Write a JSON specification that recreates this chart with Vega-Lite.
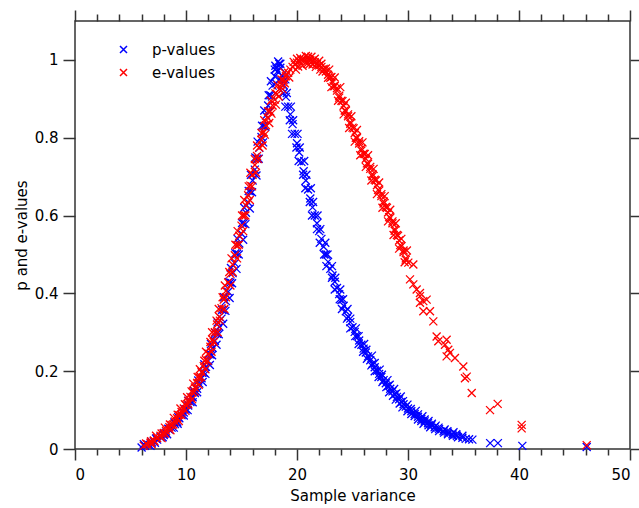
{
"$schema": "https://vega.github.io/schema/vega-lite/v6.json",
"width": 555, "height": 428,
"autosize": {"type": "none"},
"padding": {"left": 75, "top": 21, "right": 9, "bottom": 59},
"background": "white",
"config": {
  "view": {"stroke": "#333", "strokeWidth": 1.5},
  "font": "DejaVu Sans",
  "axis": {"domain": false, "grid": false, "tickColor": "#333", "tickWidth": 1.5, "labelFont": "DejaVu Sans", "labelFontSize": 15, "labelColor": "black", "titleFont": "DejaVu Sans", "titleFontSize": 15, "titleFontWeight": "normal", "titleColor": "black"}
},
"data": {"values": [
{"series":"p-values","x":6.0,"y":0.004},{"series":"p-values","x":6.3,"y":0.008},{"series":"p-values","x":6.6,"y":0.011},{"series":"p-values","x":6.9,"y":0.015},{"series":"p-values","x":7.1,"y":0.02},{"series":"p-values","x":7.4,"y":0.024},{"series":"p-values","x":7.7,"y":0.03},{"series":"p-values","x":8.0,"y":0.036},{"series":"p-values","x":8.2,"y":0.042},{"series":"p-values","x":8.5,"y":0.05},{"series":"p-values","x":8.7,"y":0.055},{"series":"p-values","x":9.0,"y":0.064},{"series":"p-values","x":9.2,"y":0.07},{"series":"p-values","x":9.4,"y":0.079},{"series":"p-values","x":9.6,"y":0.087},{"series":"p-values","x":9.8,"y":0.094},{"series":"p-values","x":10.0,"y":0.102},{"series":"p-values","x":10.2,"y":0.112},{"series":"p-values","x":10.4,"y":0.121},{"series":"p-values","x":10.6,"y":0.133},{"series":"p-values","x":10.8,"y":0.144},{"series":"p-values","x":11.0,"y":0.155},{"series":"p-values","x":11.2,"y":0.168},{"series":"p-values","x":11.4,"y":0.182},{"series":"p-values","x":11.6,"y":0.196},{"series":"p-values","x":11.8,"y":0.211},{"series":"p-values","x":12.0,"y":0.226},{"series":"p-values","x":12.2,"y":0.243},{"series":"p-values","x":12.4,"y":0.26},{"series":"p-values","x":12.6,"y":0.278},{"series":"p-values","x":12.8,"y":0.296},{"series":"p-values","x":13.0,"y":0.314},{"series":"p-values","x":13.2,"y":0.335},{"series":"p-values","x":13.4,"y":0.357},{"series":"p-values","x":13.6,"y":0.38},{"series":"p-values","x":13.8,"y":0.404},{"series":"p-values","x":14.0,"y":0.428},{"series":"p-values","x":14.2,"y":0.452},{"series":"p-values","x":14.4,"y":0.477},{"series":"p-values","x":14.6,"y":0.502},{"series":"p-values","x":14.8,"y":0.528},{"series":"p-values","x":15.0,"y":0.553},{"series":"p-values","x":15.2,"y":0.58},{"series":"p-values","x":15.4,"y":0.607},{"series":"p-values","x":15.6,"y":0.634},{"series":"p-values","x":15.8,"y":0.662},{"series":"p-values","x":16.0,"y":0.69},{"series":"p-values","x":16.2,"y":0.718},{"series":"p-values","x":16.4,"y":0.746},{"series":"p-values","x":16.6,"y":0.774},{"series":"p-values","x":16.8,"y":0.802},{"series":"p-values","x":17.0,"y":0.83},{"series":"p-values","x":17.2,"y":0.857},{"series":"p-values","x":17.4,"y":0.883},{"series":"p-values","x":17.6,"y":0.909},{"series":"p-values","x":17.8,"y":0.934},{"series":"p-values","x":18.0,"y":0.958},{"series":"p-values","x":18.15,"y":0.978},{"series":"p-values","x":18.3,"y":0.996},{"series":"p-values","x":18.4,"y":0.99},
{"series":"p-values","x":18.5,"y":0.98},{"series":"p-values","x":18.65,"y":0.96},{"series":"p-values","x":18.8,"y":0.935},{"series":"p-values","x":19.0,"y":0.905},{"series":"p-values","x":19.2,"y":0.88},{"series":"p-values","x":19.4,"y":0.86},{"series":"p-values","x":19.6,"y":0.835},{"series":"p-values","x":19.8,"y":0.81},{"series":"p-values","x":20.0,"y":0.786},{"series":"p-values","x":20.2,"y":0.762},{"series":"p-values","x":20.4,"y":0.738},{"series":"p-values","x":20.6,"y":0.714},{"series":"p-values","x":20.8,"y":0.69},{"series":"p-values","x":21.0,"y":0.667},{"series":"p-values","x":21.2,"y":0.644},{"series":"p-values","x":21.4,"y":0.621},{"series":"p-values","x":21.6,"y":0.6},{"series":"p-values","x":21.8,"y":0.58},{"series":"p-values","x":22.0,"y":0.56},{"series":"p-values","x":22.2,"y":0.54},{"series":"p-values","x":22.4,"y":0.52},{"series":"p-values","x":22.6,"y":0.5},{"series":"p-values","x":22.8,"y":0.481},{"series":"p-values","x":23.0,"y":0.463},{"series":"p-values","x":23.2,"y":0.446},{"series":"p-values","x":23.4,"y":0.43},{"series":"p-values","x":23.6,"y":0.414},{"series":"p-values","x":23.8,"y":0.398},{"series":"p-values","x":24.0,"y":0.383},{"series":"p-values","x":24.2,"y":0.368},{"series":"p-values","x":24.4,"y":0.354},{"series":"p-values","x":24.6,"y":0.34},{"series":"p-values","x":24.8,"y":0.326},{"series":"p-values","x":25.0,"y":0.313},{"series":"p-values","x":25.2,"y":0.301},{"series":"p-values","x":25.4,"y":0.29},{"series":"p-values","x":25.6,"y":0.279},{"series":"p-values","x":25.8,"y":0.268},{"series":"p-values","x":26.0,"y":0.258},{"series":"p-values","x":26.2,"y":0.248},{"series":"p-values","x":26.4,"y":0.238},{"series":"p-values","x":26.6,"y":0.228},{"series":"p-values","x":26.8,"y":0.219},{"series":"p-values","x":27.0,"y":0.21},{"series":"p-values","x":27.2,"y":0.201},{"series":"p-values","x":27.4,"y":0.193},{"series":"p-values","x":27.6,"y":0.185},{"series":"p-values","x":27.8,"y":0.177},{"series":"p-values","x":28.0,"y":0.169},{"series":"p-values","x":28.2,"y":0.162},{"series":"p-values","x":28.4,"y":0.155},{"series":"p-values","x":28.6,"y":0.148},{"series":"p-values","x":28.8,"y":0.141},{"series":"p-values","x":29.0,"y":0.134},{"series":"p-values","x":29.2,"y":0.128},{"series":"p-values","x":29.4,"y":0.121},{"series":"p-values","x":29.6,"y":0.115},{"series":"p-values","x":29.8,"y":0.109},{"series":"p-values","x":30.0,"y":0.104},{"series":"p-values","x":30.3,"y":0.097},{"series":"p-values","x":30.6,"y":0.09},{"series":"p-values","x":30.9,"y":0.083},{"series":"p-values","x":31.2,"y":0.077},{"series":"p-values","x":31.5,"y":0.071},{"series":"p-values","x":31.8,"y":0.066},{"series":"p-values","x":32.1,"y":0.061},{"series":"p-values","x":32.4,"y":0.056},{"series":"p-values","x":32.8,"y":0.051},{"series":"p-values","x":33.2,"y":0.046},{"series":"p-values","x":33.6,"y":0.042},{"series":"p-values","x":34.0,"y":0.038},{"series":"p-values","x":34.4,"y":0.034},{"series":"p-values","x":34.9,"y":0.029},{"series":"p-values","x":35.2,"y":0.026},{"series":"p-values","x":35.5,"y":0.025},{"series":"p-values","x":35.8,"y":0.024},{"series":"p-values","x":37.4,"y":0.015},{"series":"p-values","x":38.1,"y":0.015},{"series":"p-values","x":40.3,"y":0.008},{"series":"p-values","x":46.1,"y":0.005},
{"series":"p-values","x":6.2,"y":0.012},{"series":"p-values","x":6.8,"y":0.008},{"series":"p-values","x":7.3,"y":0.027},{"series":"p-values","x":7.9,"y":0.03},{"series":"p-values","x":8.4,"y":0.052},{"series":"p-values","x":8.9,"y":0.055},{"series":"p-values","x":9.3,"y":0.082},{"series":"p-values","x":9.8,"y":0.086},{"series":"p-values","x":10.2,"y":0.124},{"series":"p-values","x":10.6,"y":0.12},{"series":"p-values","x":11.1,"y":0.176},{"series":"p-values","x":11.5,"y":0.172},{"series":"p-values","x":11.65,"y":0.218},{"series":"p-values","x":12.15,"y":0.216},{"series":"p-values","x":12.25,"y":0.27},{"series":"p-values","x":12.75,"y":0.268},{"series":"p-values","x":12.85,"y":0.325},{"series":"p-values","x":13.35,"y":0.322},{"series":"p-values","x":13.43,"y":0.39},{"series":"p-values","x":13.93,"y":0.388},{"series":"p-values","x":14.05,"y":0.465},{"series":"p-values","x":14.55,"y":0.463},{"series":"p-values","x":14.65,"y":0.54},{"series":"p-values","x":15.15,"y":0.538},{"series":"p-values","x":15.25,"y":0.62},{"series":"p-values","x":15.75,"y":0.618},{"series":"p-values","x":15.85,"y":0.705},{"series":"p-values","x":16.35,"y":0.703},{"series":"p-values","x":16.45,"y":0.79},{"series":"p-values","x":16.95,"y":0.788},{"series":"p-values","x":17.05,"y":0.87},{"series":"p-values","x":17.55,"y":0.868},{"series":"p-values","x":17.65,"y":0.945},{"series":"p-values","x":18.1,"y":0.94},{"series":"p-values","x":18.05,"y":0.985},{"series":"p-values","x":18.5,"y":0.99},
{"series":"p-values","x":18.45,"y":0.95},{"series":"p-values","x":18.95,"y":0.95},{"series":"p-values","x":18.95,"y":0.88},{"series":"p-values","x":19.45,"y":0.88},{"series":"p-values","x":19.55,"y":0.81},{"series":"p-values","x":20.05,"y":0.81},{"series":"p-values","x":20.15,"y":0.74},{"series":"p-values","x":20.65,"y":0.74},{"series":"p-values","x":20.75,"y":0.67},{"series":"p-values","x":21.25,"y":0.67},{"series":"p-values","x":21.35,"y":0.6},{"series":"p-values","x":21.85,"y":0.6},{"series":"p-values","x":22.05,"y":0.53},{"series":"p-values","x":22.55,"y":0.53},{"series":"p-values","x":22.65,"y":0.47},{"series":"p-values","x":23.15,"y":0.47},{"series":"p-values","x":23.4,"y":0.41},{"series":"p-values","x":23.9,"y":0.41},{"series":"p-values","x":24.05,"y":0.36},{"series":"p-values","x":24.55,"y":0.36},{"series":"p-values","x":24.8,"y":0.31},{"series":"p-values","x":25.3,"y":0.31},{"series":"p-values","x":25.55,"y":0.27},{"series":"p-values","x":26.05,"y":0.27},{"series":"p-values","x":26.3,"y":0.232},{"series":"p-values","x":26.75,"y":0.24},{"series":"p-values","x":27.0,"y":0.2},{"series":"p-values","x":27.45,"y":0.204},{"series":"p-values","x":27.7,"y":0.172},{"series":"p-values","x":28.15,"y":0.177},{"series":"p-values","x":28.3,"y":0.146},{"series":"p-values","x":28.75,"y":0.154},{"series":"p-values","x":28.9,"y":0.127},{"series":"p-values","x":29.35,"y":0.135},{"series":"p-values","x":29.5,"y":0.107},{"series":"p-values","x":29.95,"y":0.114},{"series":"p-values","x":30.3,"y":0.09},{"series":"p-values","x":30.7,"y":0.098},{"series":"p-values","x":30.9,"y":0.076},{"series":"p-values","x":31.3,"y":0.084},{"series":"p-values","x":31.4,"y":0.065},{"series":"p-values","x":31.85,"y":0.072},{"series":"p-values","x":32.0,"y":0.056},{"series":"p-values","x":32.5,"y":0.06},{"series":"p-values","x":32.8,"y":0.046},{"series":"p-values","x":33.3,"y":0.05},{"series":"p-values","x":33.6,"y":0.038},{"series":"p-values","x":34.1,"y":0.043},{"series":"p-values","x":34.5,"y":0.03},{"series":"p-values","x":34.9,"y":0.034},
{"series":"p-values","x":6.9,"y":0.018},{"series":"p-values","x":7.2,"y":0.016},{"series":"p-values","x":8.0,"y":0.04},{"series":"p-values","x":8.3,"y":0.038},{"series":"p-values","x":8.95,"y":0.068},{"series":"p-values","x":9.25,"y":0.065},{"series":"p-values","x":9.85,"y":0.103},{"series":"p-values","x":10.15,"y":0.1},{"series":"p-values","x":10.7,"y":0.149},{"series":"p-values","x":11.0,"y":0.146},{"series":"p-values","x":11.45,"y":0.196},{"series":"p-values","x":11.75,"y":0.193},{"series":"p-values","x":12.05,"y":0.244},{"series":"p-values","x":12.35,"y":0.241},{"series":"p-values","x":12.65,"y":0.298},{"series":"p-values","x":12.95,"y":0.295},{"series":"p-values","x":13.25,"y":0.358},{"series":"p-values","x":13.55,"y":0.355},{"series":"p-values","x":13.85,"y":0.429},{"series":"p-values","x":14.15,"y":0.426},{"series":"p-values","x":14.45,"y":0.503},{"series":"p-values","x":14.75,"y":0.5},{"series":"p-values","x":15.05,"y":0.581},{"series":"p-values","x":15.35,"y":0.578},{"series":"p-values","x":15.65,"y":0.663},{"series":"p-values","x":15.95,"y":0.66},{"series":"p-values","x":16.25,"y":0.749},{"series":"p-values","x":16.55,"y":0.746},{"series":"p-values","x":16.85,"y":0.831},{"series":"p-values","x":17.15,"y":0.828},{"series":"p-values","x":17.45,"y":0.909},{"series":"p-values","x":17.75,"y":0.906},{"series":"p-values","x":18.0,"y":0.975},{"series":"p-values","x":18.25,"y":0.97},
{"series":"p-values","x":18.78,"y":0.915},{"series":"p-values","x":19.08,"y":0.915},{"series":"p-values","x":19.35,"y":0.845},{"series":"p-values","x":19.65,"y":0.845},{"series":"p-values","x":19.95,"y":0.775},{"series":"p-values","x":20.25,"y":0.775},{"series":"p-values","x":20.55,"y":0.705},{"series":"p-values","x":20.85,"y":0.705},{"series":"p-values","x":21.15,"y":0.635},{"series":"p-values","x":21.45,"y":0.635},{"series":"p-values","x":21.8,"y":0.565},{"series":"p-values","x":22.1,"y":0.565},{"series":"p-values","x":22.45,"y":0.5},{"series":"p-values","x":22.75,"y":0.5},{"series":"p-values","x":23.15,"y":0.44},{"series":"p-values","x":23.45,"y":0.44},{"series":"p-values","x":23.85,"y":0.385},{"series":"p-values","x":24.15,"y":0.385},{"series":"p-values","x":24.5,"y":0.335},{"series":"p-values","x":24.8,"y":0.335},{"series":"p-values","x":25.25,"y":0.29},{"series":"p-values","x":25.55,"y":0.29},{"series":"p-values","x":25.95,"y":0.25},{"series":"p-values","x":26.25,"y":0.255},{"series":"p-values","x":26.7,"y":0.215},{"series":"p-values","x":27.0,"y":0.221},{"series":"p-values","x":27.35,"y":0.185},{"series":"p-values","x":27.65,"y":0.191},{"series":"p-values","x":28.05,"y":0.159},{"series":"p-values","x":28.35,"y":0.165},{"series":"p-values","x":28.65,"y":0.137},{"series":"p-values","x":28.95,"y":0.143},{"series":"p-values","x":29.25,"y":0.117},{"series":"p-values","x":29.55,"y":0.123},{"series":"p-values","x":29.95,"y":0.097},{"series":"p-values","x":30.25,"y":0.103},{"series":"p-values","x":30.6,"y":0.085},{"series":"p-values","x":30.9,"y":0.089},{"series":"p-values","x":31.2,"y":0.072},{"series":"p-values","x":31.5,"y":0.076},{"series":"p-values","x":31.85,"y":0.061},{"series":"p-values","x":32.15,"y":0.065},{"series":"p-values","x":32.45,"y":0.051},{"series":"p-values","x":32.75,"y":0.055},{"series":"p-values","x":33.25,"y":0.042},{"series":"p-values","x":33.55,"y":0.046},{"series":"p-values","x":34.05,"y":0.034},{"series":"p-values","x":34.35,"y":0.038},
{"series":"e-values","x":6.2,"y":0.008},{"series":"e-values","x":6.5,"y":0.012},{"series":"e-values","x":6.8,"y":0.016},{"series":"e-values","x":7.1,"y":0.022},{"series":"e-values","x":7.4,"y":0.028},{"series":"e-values","x":7.7,"y":0.034},{"series":"e-values","x":8.0,"y":0.041},{"series":"e-values","x":8.2,"y":0.047},{"series":"e-values","x":8.5,"y":0.056},{"series":"e-values","x":8.7,"y":0.062},{"series":"e-values","x":9.0,"y":0.071},{"series":"e-values","x":9.2,"y":0.079},{"series":"e-values","x":9.4,"y":0.087},{"series":"e-values","x":9.6,"y":0.095},{"series":"e-values","x":9.8,"y":0.104},{"series":"e-values","x":10.0,"y":0.113},{"series":"e-values","x":10.2,"y":0.123},{"series":"e-values","x":10.4,"y":0.134},{"series":"e-values","x":10.6,"y":0.146},{"series":"e-values","x":10.8,"y":0.158},{"series":"e-values","x":11.0,"y":0.17},{"series":"e-values","x":11.2,"y":0.184},{"series":"e-values","x":11.4,"y":0.198},{"series":"e-values","x":11.6,"y":0.213},{"series":"e-values","x":11.8,"y":0.229},{"series":"e-values","x":12.0,"y":0.245},{"series":"e-values","x":12.2,"y":0.263},{"series":"e-values","x":12.4,"y":0.281},{"series":"e-values","x":12.6,"y":0.3},{"series":"e-values","x":12.8,"y":0.32},{"series":"e-values","x":13.0,"y":0.34},{"series":"e-values","x":13.2,"y":0.362},{"series":"e-values","x":13.4,"y":0.384},{"series":"e-values","x":13.6,"y":0.406},{"series":"e-values","x":13.8,"y":0.428},{"series":"e-values","x":14.0,"y":0.45},{"series":"e-values","x":14.2,"y":0.474},{"series":"e-values","x":14.4,"y":0.498},{"series":"e-values","x":14.6,"y":0.523},{"series":"e-values","x":14.8,"y":0.548},{"series":"e-values","x":15.0,"y":0.574},{"series":"e-values","x":15.2,"y":0.6},{"series":"e-values","x":15.4,"y":0.626},{"series":"e-values","x":15.6,"y":0.652},{"series":"e-values","x":15.8,"y":0.677},{"series":"e-values","x":16.0,"y":0.705},{"series":"e-values","x":16.2,"y":0.73},{"series":"e-values","x":16.4,"y":0.753},{"series":"e-values","x":16.6,"y":0.775},{"series":"e-values","x":16.8,"y":0.795},{"series":"e-values","x":17.0,"y":0.814},{"series":"e-values","x":17.2,"y":0.832},{"series":"e-values","x":17.4,"y":0.85},{"series":"e-values","x":17.6,"y":0.867},{"series":"e-values","x":17.8,"y":0.883},{"series":"e-values","x":18.0,"y":0.898},{"series":"e-values","x":18.2,"y":0.912},{"series":"e-values","x":18.4,"y":0.925},{"series":"e-values","x":18.6,"y":0.937},{"series":"e-values","x":18.8,"y":0.948},{"series":"e-values","x":19.0,"y":0.958},{"series":"e-values","x":19.2,"y":0.967},{"series":"e-values","x":19.4,"y":0.975},{"series":"e-values","x":19.6,"y":0.982},{"series":"e-values","x":19.8,"y":0.988},{"series":"e-values","x":20.0,"y":0.993},{"series":"e-values","x":20.2,"y":0.996},{"series":"e-values","x":20.4,"y":0.999},{"series":"e-values","x":20.6,"y":1.0},{"series":"e-values","x":20.8,"y":1.0},{"series":"e-values","x":21.0,"y":1.0},{"series":"e-values","x":21.2,"y":0.999},{"series":"e-values","x":21.4,"y":0.997},{"series":"e-values","x":21.6,"y":0.994},{"series":"e-values","x":21.8,"y":0.99},{"series":"e-values","x":22.0,"y":0.986},
{"series":"e-values","x":22.2,"y":0.982},{"series":"e-values","x":22.4,"y":0.977},{"series":"e-values","x":22.6,"y":0.97},{"series":"e-values","x":22.8,"y":0.962},{"series":"e-values","x":23.0,"y":0.954},{"series":"e-values","x":23.2,"y":0.944},{"series":"e-values","x":23.4,"y":0.933},{"series":"e-values","x":23.6,"y":0.921},{"series":"e-values","x":23.8,"y":0.908},{"series":"e-values","x":24.0,"y":0.895},{"series":"e-values","x":24.2,"y":0.882},{"series":"e-values","x":24.4,"y":0.869},{"series":"e-values","x":24.6,"y":0.855},{"series":"e-values","x":24.8,"y":0.84},{"series":"e-values","x":25.0,"y":0.826},{"series":"e-values","x":25.2,"y":0.812},{"series":"e-values","x":25.4,"y":0.799},{"series":"e-values","x":25.6,"y":0.785},{"series":"e-values","x":25.8,"y":0.772},{"series":"e-values","x":26.0,"y":0.759},{"series":"e-values","x":26.2,"y":0.746},{"series":"e-values","x":26.4,"y":0.733},{"series":"e-values","x":26.6,"y":0.72},{"series":"e-values","x":26.8,"y":0.706},{"series":"e-values","x":27.0,"y":0.692},{"series":"e-values","x":27.2,"y":0.678},{"series":"e-values","x":27.4,"y":0.664},{"series":"e-values","x":27.6,"y":0.65},{"series":"e-values","x":27.8,"y":0.636},{"series":"e-values","x":28.0,"y":0.622},{"series":"e-values","x":28.2,"y":0.608},{"series":"e-values","x":28.4,"y":0.594},{"series":"e-values","x":28.6,"y":0.58},{"series":"e-values","x":28.8,"y":0.565},{"series":"e-values","x":29.0,"y":0.55},{"series":"e-values","x":29.2,"y":0.536},{"series":"e-values","x":29.4,"y":0.521},{"series":"e-values","x":29.6,"y":0.506},{"series":"e-values","x":29.8,"y":0.49},{"series":"e-values","x":30.03,"y":0.479},{"series":"e-values","x":30.48,"y":0.474},{"series":"e-values","x":30.18,"y":0.436},{"series":"e-values","x":30.48,"y":0.423},{"series":"e-values","x":30.78,"y":0.41},{"series":"e-values","x":31.08,"y":0.401},{"series":"e-values","x":31.08,"y":0.393},{"series":"e-values","x":31.38,"y":0.38},{"series":"e-values","x":31.68,"y":0.384},{"series":"e-values","x":31.08,"y":0.376},{"series":"e-values","x":31.38,"y":0.354},{"series":"e-values","x":31.98,"y":0.354},{"series":"e-values","x":32.28,"y":0.328},{"series":"e-values","x":32.58,"y":0.289},{"series":"e-values","x":32.73,"y":0.277},{"series":"e-values","x":33.48,"y":0.281},{"series":"e-values","x":33.33,"y":0.268},{"series":"e-values","x":33.63,"y":0.255},{"series":"e-values","x":33.78,"y":0.247},{"series":"e-values","x":33.48,"y":0.238},{"series":"e-values","x":34.23,"y":0.234},{"series":"e-values","x":34.98,"y":0.212},{"series":"e-values","x":35.13,"y":0.182},{"series":"e-values","x":35.29,"y":0.186},{"series":"e-values","x":35.74,"y":0.144},{"series":"e-values","x":37.39,"y":0.1},{"series":"e-values","x":38.08,"y":0.116},{"series":"e-values","x":40.24,"y":0.062},{"series":"e-values","x":40.24,"y":0.053},{"series":"e-values","x":46.1,"y":0.01},
{"series":"e-values","x":6.4,"y":0.014},{"series":"e-values","x":6.9,"y":0.012},{"series":"e-values","x":7.3,"y":0.034},{"series":"e-values","x":7.8,"y":0.028},{"series":"e-values","x":8.1,"y":0.055},{"series":"e-values","x":8.6,"y":0.048},{"series":"e-values","x":8.9,"y":0.08},{"series":"e-values","x":9.35,"y":0.072},{"series":"e-values","x":9.5,"y":0.104},{"series":"e-values","x":9.95,"y":0.098},{"series":"e-values","x":10.1,"y":0.133},{"series":"e-values","x":10.55,"y":0.128},{"series":"e-values","x":10.65,"y":0.168},{"series":"e-values","x":11.15,"y":0.165},{"series":"e-values","x":11.25,"y":0.205},{"series":"e-values","x":11.75,"y":0.205},{"series":"e-values","x":11.8,"y":0.25},{"series":"e-values","x":12.3,"y":0.25},{"series":"e-values","x":12.35,"y":0.3},{"series":"e-values","x":12.85,"y":0.3},{"series":"e-values","x":12.95,"y":0.36},{"series":"e-values","x":13.45,"y":0.36},{"series":"e-values","x":13.5,"y":0.42},{"series":"e-values","x":14.0,"y":0.42},{"series":"e-values","x":14.1,"y":0.49},{"series":"e-values","x":14.6,"y":0.49},{"series":"e-values","x":14.65,"y":0.56},{"series":"e-values","x":15.15,"y":0.56},{"series":"e-values","x":15.25,"y":0.64},{"series":"e-values","x":15.75,"y":0.64},{"series":"e-values","x":15.8,"y":0.71},{"series":"e-values","x":16.3,"y":0.71},{"series":"e-values","x":16.4,"y":0.78},{"series":"e-values","x":16.9,"y":0.78},{"series":"e-values","x":17.05,"y":0.845},{"series":"e-values","x":17.5,"y":0.838},{"series":"e-values","x":17.65,"y":0.895},{"series":"e-values","x":18.1,"y":0.885},{"series":"e-values","x":18.25,"y":0.935},{"series":"e-values","x":18.7,"y":0.925},{"series":"e-values","x":18.85,"y":0.968},{"series":"e-values","x":19.3,"y":0.955},{"series":"e-values","x":19.7,"y":0.995},{"series":"e-values","x":19.9,"y":0.975},{"series":"e-values","x":20.3,"y":1.005},{"series":"e-values","x":20.5,"y":0.985},{"series":"e-values","x":21.0,"y":1.008},{"series":"e-values","x":21.1,"y":0.988},{"series":"e-values","x":21.6,"y":1.003},{"series":"e-values","x":21.7,"y":0.982},{"series":"e-values","x":22.2,"y":0.99},{"series":"e-values","x":22.3,"y":0.97},
{"series":"e-values","x":22.9,"y":0.975},{"series":"e-values","x":23.1,"y":0.93},{"series":"e-values","x":23.4,"y":0.955},{"series":"e-values","x":23.7,"y":0.895},{"series":"e-values","x":23.9,"y":0.93},{"series":"e-values","x":24.2,"y":0.86},{"series":"e-values","x":24.4,"y":0.89},{"series":"e-values","x":24.7,"y":0.825},{"series":"e-values","x":24.9,"y":0.855},{"series":"e-values","x":25.2,"y":0.79},{"series":"e-values","x":25.4,"y":0.82},{"series":"e-values","x":25.7,"y":0.755},{"series":"e-values","x":25.9,"y":0.788},{"series":"e-values","x":26.2,"y":0.725},{"series":"e-values","x":26.4,"y":0.755},{"series":"e-values","x":26.7,"y":0.69},{"series":"e-values","x":26.9,"y":0.72},{"series":"e-values","x":27.2,"y":0.655},{"series":"e-values","x":27.4,"y":0.685},{"series":"e-values","x":27.7,"y":0.62},{"series":"e-values","x":27.9,"y":0.65},{"series":"e-values","x":28.2,"y":0.585},{"series":"e-values","x":28.4,"y":0.615},{"series":"e-values","x":28.7,"y":0.55},{"series":"e-values","x":28.9,"y":0.58},{"series":"e-values","x":29.2,"y":0.515},{"series":"e-values","x":29.4,"y":0.54},{"series":"e-values","x":29.7,"y":0.48},{"series":"e-values","x":29.9,"y":0.51},
{"series":"e-values","x":6.85,"y":0.02},{"series":"e-values","x":7.15,"y":0.02},{"series":"e-values","x":7.8,"y":0.04},{"series":"e-values","x":8.1,"y":0.04},{"series":"e-values","x":8.55,"y":0.063},{"series":"e-values","x":8.85,"y":0.063},{"series":"e-values","x":9.25,"y":0.088},{"series":"e-values","x":9.55,"y":0.088},{"series":"e-values","x":9.9,"y":0.115},{"series":"e-values","x":10.2,"y":0.115},{"series":"e-values","x":10.5,"y":0.148},{"series":"e-values","x":10.8,"y":0.148},{"series":"e-values","x":11.05,"y":0.185},{"series":"e-values","x":11.35,"y":0.185},{"series":"e-values","x":11.65,"y":0.227},{"series":"e-values","x":11.95,"y":0.227},{"series":"e-values","x":12.2,"y":0.275},{"series":"e-values","x":12.5,"y":0.275},{"series":"e-values","x":12.75,"y":0.33},{"series":"e-values","x":13.05,"y":0.33},{"series":"e-values","x":13.3,"y":0.39},{"series":"e-values","x":13.6,"y":0.39},{"series":"e-values","x":13.9,"y":0.455},{"series":"e-values","x":14.2,"y":0.455},{"series":"e-values","x":14.45,"y":0.525},{"series":"e-values","x":14.75,"y":0.525},{"series":"e-values","x":15.05,"y":0.6},{"series":"e-values","x":15.35,"y":0.6},{"series":"e-values","x":15.65,"y":0.675},{"series":"e-values","x":15.95,"y":0.675},{"series":"e-values","x":16.2,"y":0.745},{"series":"e-values","x":16.5,"y":0.745},{"series":"e-values","x":16.8,"y":0.812},{"series":"e-values","x":17.1,"y":0.808},{"series":"e-values","x":17.4,"y":0.868},{"series":"e-values","x":17.7,"y":0.862},{"series":"e-values","x":18.05,"y":0.914},{"series":"e-values","x":18.35,"y":0.906},{"series":"e-values","x":18.6,"y":0.95},{"series":"e-values","x":18.9,"y":0.94},
{"series":"e-values","x":20.0,"y":1.003},{"series":"e-values","x":20.1,"y":0.983},{"series":"e-values","x":20.8,"y":1.01},{"series":"e-values","x":20.9,"y":0.99},{"series":"e-values","x":21.3,"y":1.008},{"series":"e-values","x":21.4,"y":0.988},{"series":"e-values","x":22.0,"y":0.998},{"series":"e-values","x":22.1,"y":0.975},
{"series":"e-values","x":22.6,"y":0.978},{"series":"e-values","x":22.8,"y":0.954},{"series":"e-values","x":23.1,"y":0.956},{"series":"e-values","x":23.3,"y":0.932},{"series":"e-values","x":23.6,"y":0.927},{"series":"e-values","x":23.8,"y":0.903},{"series":"e-values","x":24.1,"y":0.894},{"series":"e-values","x":24.3,"y":0.87},{"series":"e-values","x":24.6,"y":0.86},{"series":"e-values","x":24.8,"y":0.836},{"series":"e-values","x":25.1,"y":0.824},{"series":"e-values","x":25.3,"y":0.8},{"series":"e-values","x":25.6,"y":0.791},{"series":"e-values","x":25.8,"y":0.767},{"series":"e-values","x":26.1,"y":0.758},{"series":"e-values","x":26.3,"y":0.734},{"series":"e-values","x":26.6,"y":0.725},{"series":"e-values","x":26.8,"y":0.701},{"series":"e-values","x":27.1,"y":0.69},{"series":"e-values","x":27.3,"y":0.666},{"series":"e-values","x":27.6,"y":0.655},{"series":"e-values","x":27.8,"y":0.631},{"series":"e-values","x":28.1,"y":0.62},{"series":"e-values","x":28.3,"y":0.596},{"series":"e-values","x":28.6,"y":0.585},{"series":"e-values","x":28.8,"y":0.561},{"series":"e-values","x":29.1,"y":0.548},{"series":"e-values","x":29.3,"y":0.524},{"series":"e-values","x":29.6,"y":0.51},{"series":"e-values","x":29.8,"y":0.486}
]},
"layer": [
  {
    "mark": {"type": "point", "shape": "M-1,-1L1,1M-1,1L1,-1", "filled": false, "size": 64, "strokeWidth": 1.3, "opacity": 1},
    "encoding": {
      "x": {"field": "x", "type": "quantitative", "scale": {"domain": [0, 50], "nice": false, "zero": false},
            "axis": {"orient": "bottom", "values": [0, 10, 20, 30, 40, 50], "tickSize": 11, "labelPadding": 7, "title": "Sample variance", "titlePadding": 6}},
      "y": {"field": "y", "type": "quantitative", "scale": {"domain": [0, 1.1], "nice": false},
            "axis": {"orient": "left", "values": [0, 0.2, 0.4, 0.6, 0.8, 1], "format": "~g", "tickSize": 12, "labelPadding": 5, "title": "p and e-values", "titlePadding": 5}},
      "color": {"field": "series", "type": "nominal", "scale": {"domain": ["p-values", "e-values"], "range": ["#0000ff", "#ff0000"]},
                "legend": {"orient": "none", "legendX": 41, "legendY": 21, "title": null, "padding": 0, "symbolType": "M-1,-1L1,1M-1,1L1,-1", "symbolSize": 49, "symbolStrokeWidth": 1.5, "symbolFillColor": "transparent", "labelFont": "DejaVu Sans", "labelFontSize": 15, "labelColor": "black", "labelOffset": 21, "rowPadding": 7}}
    }
  },
  {
    "mark": {"type": "point", "opacity": 0},
    "encoding": {
      "x": {"field": "x", "type": "quantitative", "axis": {"orient": "bottom", "values": [2,4,6,8,12,14,16,18,22,24,26,28,32,34,36,38,42,44,46,48], "tickSize": 6, "labels": false, "title": null}},
      "y": {"field": "y", "type": "quantitative", "axis": {"orient": "right", "values": [0, 0.2, 0.4, 0.6, 0.8, 1], "tickSize": 12, "labels": false, "title": null}}
    }
  },
  {
    "mark": {"type": "point", "opacity": 0},
    "encoding": {
      "x": {"field": "x", "type": "quantitative", "axis": {"orient": "top", "values": [0, 10, 20, 30, 40, 50], "tickSize": 11, "labels": false, "title": null}},
      "y": {"field": "y", "type": "quantitative", "axis": null}
    }
  },
  {
    "mark": {"type": "point", "opacity": 0},
    "encoding": {
      "x": {"field": "x", "type": "quantitative", "axis": {"orient": "top", "values": [2,4,6,8,12,14,16,18,22,24,26,28,32,34,36,38,42,44,46,48], "tickSize": 7, "labels": false, "title": null}},
      "y": {"field": "y", "type": "quantitative", "axis": null}
    }
  }
],
"resolve": {"axis": {"x": "independent", "y": "independent"}}
}
